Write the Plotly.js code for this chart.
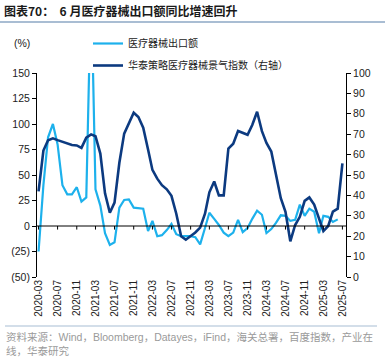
<!DOCTYPE html>
<html><head><meta charset="utf-8">
<script src="https://cdn.plot.ly/plotly-3.0.1.min.js"></script>
<style>html,body{margin:0;padding:0;background:#fff;} #chart{width:385px;height:359px;}</style>
</head><body><div id="chart"></div>
<script>
const months = [
'2020-03-01','2020-04-01','2020-05-01','2020-06-01','2020-07-01','2020-08-01','2020-09-01','2020-10-01','2020-11-01','2020-12-01',
'2021-01-01','2021-02-01','2021-03-01','2021-04-01','2021-05-01','2021-06-01','2021-07-01','2021-08-01','2021-09-01','2021-10-01','2021-11-01','2021-12-01',
'2022-01-01','2022-02-01','2022-03-01','2022-04-01','2022-05-01','2022-06-01','2022-07-01','2022-08-01','2022-09-01','2022-10-01','2022-11-01','2022-12-01',
'2023-01-01','2023-02-01','2023-03-01','2023-04-01','2023-05-01','2023-06-01','2023-07-01','2023-08-01','2023-09-01','2023-10-01','2023-11-01','2023-12-01',
'2024-01-01','2024-02-01','2024-03-01','2024-04-01','2024-05-01','2024-06-01','2024-07-01','2024-08-01','2024-09-01','2024-10-01','2024-11-01','2024-12-01',
'2025-01-01','2025-02-01','2025-03-01','2025-04-01','2025-05-01','2025-06-01','2025-07-01'
];
// 医疗器械出口额 同比 (%), 2020-03 .. 2025-06
const exportGrowth = [
-25, 40, 87, 100, 80, 40, 31, 31, 38, 24,
28, 240, 36, 20, -7, -18.5, -16, 18, 25.5, 26, 18, 17.5,
17, -5, 5, -10, -9, -4, 2, -8, -10, -10, -10, -11,
-18, -2, 13, 7, 1, -6.5, -10, -6.5, 6, -6, -2, 7,
15, 11, -7, -3, 3, 10.5, 10, 5, 6, 21, 10, 17,
14, -7, 10, 9, 4, 6.5
];
// 华泰策略医疗器械景气指数 (右轴), 2020-03 .. 2025-07
const sentimentIndex = [
42, 62, 67, 68, 67.1, 66.2, 65.3, 64.7, 64.5, 63.3,
68.3, 69.9, 69, 60.5, 41, 31.5, 36.5, 56, 70.3, 75, 80.5, 78.4,
73.2, 62.5, 52.5, 48.2, 45, 43, 39.8, 31, 20, 18.3, 20, 21.8,
24.2, 31, 41.5, 46.8, 40, 40, 63, 65.3, 71.6, 70.6, 69.7, 74.5,
81, 71.5, 65.7, 61.5, 50.5, 38.6, 32, 17.5, 25.5, 29.5, 37.3, 39,
35.5, 29, 22.5, 25, 32, 33.5, 55.7
];
const xTickVals = ['2020-03-01','2020-07-01','2020-11-01','2021-03-01','2021-07-01','2021-11-01','2022-03-01','2022-07-01','2022-11-01',
'2023-03-01','2023-07-01','2023-11-01','2024-03-01','2024-07-01','2024-11-01','2025-03-01','2025-07-01'];
const xTickText = ['2020-03','2020-07','2020-11','2021-03','2021-07','2021-11','2022-03','2022-07','2022-11',
'2023-03','2023-07','2023-11','2024-03','2024-07','2024-11','2025-03','2025-07'];
const leftTickVals = [-50,-25,0,25,50,75,100,125,150];
const leftTickText = ['(50)','(25)','0','25','50','75','100','125','150'];
const rightTickVals = [0,10,20,30,40,50,60,70,80,90,100];
const seriesNames = ['医疗器械出口额','华泰策略医疗器械景气指数（右轴）'];

const LAT = 'Liberation Sans, Arial, Noto Sans CJK SC, sans-serif';
const CJK = 'Noto Sans CJK SC, Liberation Sans, sans-serif';

const traces = [
  {x: months.slice(0, exportGrowth.length), y: exportGrowth, type:'scatter', mode:'lines', name: seriesNames[0],
   line:{color:'#1DB1EC', width:2.2}, yaxis:'y', legendgroup:'a'},
  {x: months, y: sentimentIndex, type:'scatter', mode:'lines', name: seriesNames[1],
   line:{color:'#0C3A80', width:2.6}, yaxis:'y2', legendgroup:'b'}
];

const shapes = [
  {type:'line', xref:'paper', yref:'paper', x0:-37/309, x1:348/309, y0:(277-22)/204, y1:(277-22)/204, line:{color:'#8CA7C4', width:1.5}},
  {type:'line', xref:'paper', yref:'paper', x0:-32/309, x1:340/309, y0:(277-326)/204, y1:(277-326)/204, line:{color:'#A8BDD3', width:1.2}},
  {type:'line', xref:'paper', yref:'y', x0:0, x1:1, y0:0, y1:0, line:{color:'#000', width:1}}
];
xTickVals.forEach(function(t){
  shapes.push({type:'line', xref:'x', yref:'y', x0:t, x1:t, y0:0, y1:-3.5, line:{color:'#000', width:1}});
});

const layout = {
  width:385, height:359, autosize:false,
  margin:{l:37, r:39, t:73, b:82, pad:0},
  paper_bgcolor:'#fff', plot_bgcolor:'#fff',
  showlegend:true,
  title:{text:'<b>图表70：\u00a0 6 月医疗器械出口额同比增速回升</b>', xref:'container', yref:'container',
         x:4/385, xanchor:'left', y:1-12/359, yanchor:'middle', font:{family:CJK, size:12, color:'#1a1a1a'}},
  legend:{x:(88-37)/309, y:(277-29)/204, xanchor:'left', yanchor:'top', orientation:'v',
          font:{family:CJK, size:10, color:'#222'}, bgcolor:'rgba(0,0,0,0)', traceorder:'grouped', tracegroupgap:3,
          itemwidth:30},
  xaxis:{type:'date', range:['2020-02-20','2025-07-24'], tickvals:xTickVals, ticktext:xTickText, tickangle:-90,
         showline:false, showgrid:false, zeroline:false, ticks:'', tickfont:{family:LAT, size:10, color:'#222'}, automargin:false},
  yaxis:{range:[-50,150], tickvals:leftTickVals, ticktext:leftTickText, showgrid:false, zeroline:false,
         showline:true, linecolor:'#000', linewidth:1, ticks:'outside', ticklen:4, tickcolor:'#000',
         tickfont:{family:LAT, size:10.5, color:'#222'}, automargin:false},
  yaxis2:{range:[0,100], tickvals:rightTickVals, overlaying:'y', side:'right', showgrid:false, zeroline:false,
          showline:true, linecolor:'#000', linewidth:1, ticks:'outside', ticklen:4, tickcolor:'#000',
          tickfont:{family:LAT, size:10.5, color:'#222'}, automargin:false},
  shapes:shapes,
  annotations:[
    {text:'(%)', xref:'paper', yref:'paper', x:(12-37)/309, y:(277-43)/204, xanchor:'left', yanchor:'middle', showarrow:false,
     font:{family:LAT, size:10.5, color:'#222'}},
    {text:'资料来源：Wind，Bloomberg，Datayes，iFind，海关总署，百度指数，产业在<br>线，华泰研究', xref:'paper', yref:'paper',
     x:(4-37)/309, y:(277-329)/204, xanchor:'left', yanchor:'top', align:'left', showarrow:false,
     font:{family:'Liberation Sans, Noto Sans CJK SC, sans-serif', size:10.5, color:'#9a9a9a'}}
  ]
};
Plotly.newPlot('chart', traces, layout, {displayModeBar:false, staticPlot:true});
</script></body></html>
